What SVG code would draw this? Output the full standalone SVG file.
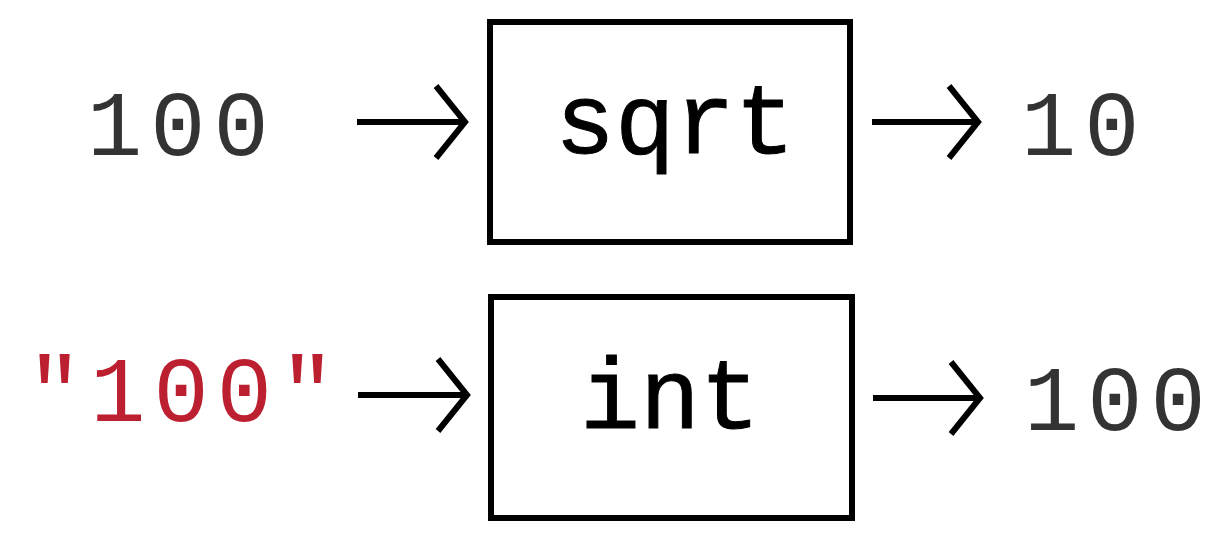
<svg xmlns="http://www.w3.org/2000/svg" width="1228" height="550" viewBox="0 0 1228 550">
<style>
.box{fill:#fff;stroke:#000;stroke-width:6}
.fn{font-family:"Liberation Mono",monospace;font-size:100px;fill:#000;stroke:#000;stroke-width:1;text-anchor:middle}
.val{font-family:"Liberation Mono",monospace;font-size:92px;fill:#333;letter-spacing:8px}
.str{fill:#bc2030}
.arr{fill:none;stroke:#000;stroke-width:6}
</style>
<rect width="1228" height="550" fill="#fff"/>
<g id="in1"><text class="val" x="87" y="155">100</text></g>
<g id="sqrt"><rect class="box" x="490" y="22" width="360" height="220"/><text class="fn" x="675" y="153">sqrt</text></g>
<g id="out1"><text class="val" x="1021" y="155">10</text></g>
<g id="in2"><text class="val str" x="27" y="421">"100"</text></g>
<g id="int"><rect class="box" x="491" y="297" width="361" height="221"/><text class="fn" x="670" y="428">int</text></g>
<g id="out2"><text class="val" x="1024" y="430">100</text></g>
<g id="connectors">
<path class="arr" d="M357 122H465M436 86L465 122L436 158"/>
<path class="arr" d="M872 122H978M949 86L978 122L949 158"/>
<path class="arr" d="M358 395H467M438 359L467 395L438 431"/>
<path class="arr" d="M873 398H980M951 362L980 398L951 434"/>
</g>
</svg>
